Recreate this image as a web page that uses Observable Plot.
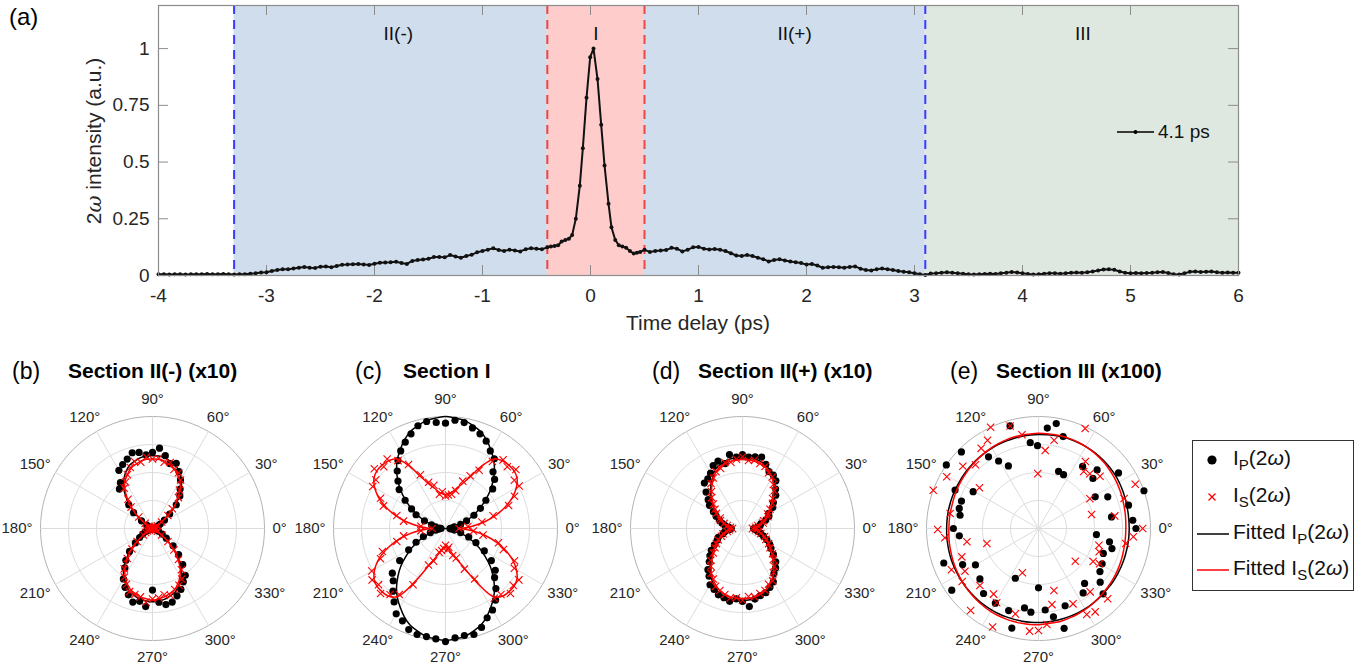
<!DOCTYPE html>
<html><head><meta charset="utf-8">
<script src="https://cdn.jsdelivr.net/npm/d3@7"></script>
<script src="https://cdn.jsdelivr.net/npm/@observablehq/plot@0.6"></script>
<style>
body{margin:0;background:#fff;font-family:"Liberation Sans",Arial,Helvetica,sans-serif;color:#000;}
#root{position:relative;width:1369px;height:668px;overflow:hidden;background:#fff;}
.abs{position:absolute;white-space:nowrap;}
svg{overflow:visible;}
</style></head>
<body><div id="root"></div>
<script>
// ---------------- DATA ----------------
// (a) time-delay scan: [delay (ps), 2ω intensity (a.u.)]
const scanPre = [[-4.00,.005],[-3.95,.005],[-3.90,.004],[-3.85,.005],[-3.80,.005],[-3.75,.004],[-3.70,.005],[-3.65,.006],[-3.60,.005],[-3.55,.007],[-3.50,.006],[-3.45,.006],[-3.40,.007],[-3.35,.006]];
const scanIIminus = [[-3.30,.004],[-3.25,.005],[-3.20,.006],[-3.15,.008],[-3.10,.010],[-3.05,.013],[-3.00,.014],[-2.95,.020],[-2.90,.024],[-2.85,.028],[-2.80,.027],[-2.75,.031],[-2.70,.034],[-2.65,.037],[-2.60,.034],[-2.55,.033],[-2.50,.039],[-2.45,.040],[-2.40,.036],[-2.35,.042],[-2.30,.047],[-2.25,.048],[-2.20,.050],[-2.15,.051],[-2.10,.049],[-2.05,.046],[-2.00,.052],[-1.95,.056],[-1.90,.057],[-1.85,.058],[-1.80,.061],[-1.75,.055],[-1.70,.051],[-1.65,.064],[-1.60,.068],[-1.55,.070],[-1.50,.074],[-1.45,.081],[-1.40,.082],[-1.35,.080],[-1.30,.090],[-1.25,.084],[-1.20,.078],[-1.15,.086],[-1.10,.092],[-1.05,.102],[-1.00,.108],[-0.95,.114],[-0.90,.120],[-0.85,.112],[-0.80,.108],[-0.75,.114],[-0.70,.110],[-0.65,.106],[-0.60,.116],[-0.55,.120],[-0.50,.118],[-0.45,.116]];
const scanI = [[-0.40,.124],[-0.367,.128],[-0.333,.130],[-0.300,.133],[-0.267,.150],[-0.233,.156],[-0.200,.162],[-0.170,.178],[-0.136,.250],[-0.099,.396],[-0.071,.561],[-0.037,.783],[-0.003,.962],[0.028,1.0],[0.065,.866],[0.099,.664],[0.130,.485],[0.167,.316],[0.194,.213],[0.229,.157],[0.262,.133],[0.295,.128],[0.330,.122],[0.365,.108],[0.400,.097],[0.430,.100],[0.460,.104]];
const scanIIplus = [[0.50,.113],[0.55,.104],[0.60,.108],[0.65,.110],[0.70,.112],[0.75,.122],[0.80,.118],[0.85,.106],[0.90,.114],[0.95,.124],[1.00,.126],[1.05,.118],[1.10,.115],[1.15,.117],[1.20,.113],[1.25,.108],[1.30,.098],[1.35,.088],[1.40,.086],[1.45,.090],[1.50,.086],[1.55,.078],[1.60,.072],[1.65,.062],[1.70,.068],[1.75,.072],[1.80,.066],[1.85,.062],[1.90,.058],[1.95,.055],[2.00,.048],[2.05,.051],[2.10,.044],[2.15,.034],[2.20,.036],[2.25,.038],[2.30,.036],[2.35,.034],[2.40,.038],[2.45,.040],[2.50,.030],[2.55,.024],[2.60,.022],[2.65,.028],[2.70,.031],[2.75,.028],[2.80,.024],[2.85,.020],[2.90,.017],[2.95,.014],[3.00,.010],[3.05,.006]];
const scanIII = [[3.10,.002],[3.15,.009],[3.20,.010],[3.25,.012],[3.30,.014],[3.35,.012],[3.40,.010],[3.45,.008],[3.50,.005],[3.55,.004],[3.60,.006],[3.65,.007],[3.70,.008],[3.75,.007],[3.80,.010],[3.85,.012],[3.90,.015],[3.95,.013],[4.00,.010],[4.05,.007],[4.10,.004],[4.15,.005],[4.20,.008],[4.25,.010],[4.30,.010],[4.35,.008],[4.40,.010],[4.45,.012],[4.50,.013],[4.55,.012],[4.60,.014],[4.65,.018],[4.70,.022],[4.75,.026],[4.80,.027],[4.85,.025],[4.90,.018],[4.95,.012],[5.00,.010],[5.05,.011],[5.10,.010],[5.15,.011],[5.20,.012],[5.25,.014],[5.30,.015],[5.35,.011],[5.40,.006],[5.45,.004],[5.50,.010],[5.55,.016],[5.60,.018],[5.65,.015],[5.70,.017],[5.75,.018],[5.80,.014],[5.85,.012],[5.90,.013],[5.95,.012],[6.00,.012]];

const regionNames = ["II(-)", "I", "II(+)", "III"];
const regionStart = [-3.3, -0.4, 0.5, 3.1];
const regionEnd   = [-0.4, 0.5, 3.1, 6];
const regionLabelT = [-1.78, 0.05, 1.89, 4.56];
const boundaryT   = [-3.3, -0.4, 0.5, 3.1];
const xTicks = [-4, -3, -2, -1, 0, 1, 2, 3, 4, 5, 6];
const yTicks = [0, 0.25, 0.5, 0.75, 1];
const yMax = 1.19;

// polar panels: angles (deg) and normalized radii
const polarAngles = [0,5,10,15,20,25,30,35,40,45,50,55,60,65,70,75,80,85,90,95,100,105,110,115,120,125,130,135,140,145,150,155,160,165,170,175,180,185,190,195,200,205,210,215,220,225,230,235,240,245,250,255,260,265,270,275,280,285,290,295,300,305,310,315,320,325,330,335,340,345,350,355];
const angleTicks = [0,30,60,90,120,150,180,210,240,270,300,330];

// (b) Section II(-) (x10)
const bDotsP = [.02,.03,.02,.03,.04,.06,.08,.13,.20,.30,.38,.43,.50,.56,.62,.60,.66,.72,.68,.66,.69,.70,.66,.63,.60,.50,.46,.30,.22,.12,.06,.04,.03,.02,.03,.02,.02,.03,.02,.04,.05,.07,.10,.14,.20,.29,.37,.43,.52,.58,.63,.68,.66,.70,.55,.66,.69,.68,.64,.60,.55,.51,.42,.33,.24,.15,.10,.06,.04,.03,.02,.03];
const bDotsS = [.01,.02,.01,.02,.03,.03,.05,.10,.18,.25,.36,.42,.50,.55,.56,.61,.60,.63,.62,.64,.60,.62,.58,.53,.48,.44,.34,.27,.16,.08,.04,.02,.02,.01,.02,.01,.02,.01,.02,.03,.03,.05,.07,.10,.18,.26,.35,.44,.50,.55,.60,.61,.62,.66,.63,.62,.60,.62,.58,.56,.52,.45,.36,.27,.18,.10,.05,.03,.02,.02,.01,.02];
const bFitP = [.003,.003,.003,.003,.01,.02,.04,.10,.19,.28,.37,.45,.51,.56,.60,.62,.64,.65,.65,.65,.64,.62,.60,.56,.51,.45,.37,.28,.19,.10,.04,.02,.01,.003,.003,.003,.003,.003,.003,.003,.01,.02,.04,.10,.19,.28,.37,.45,.51,.56,.60,.62,.64,.65,.655,.65,.64,.62,.60,.56,.51,.45,.37,.28,.19,.10,.04,.02,.01,.003,.003,.003];
const bFitS = [.003,.003,.003,.003,.01,.02,.04,.09,.18,.27,.35,.43,.49,.53,.57,.59,.61,.62,.62,.62,.61,.59,.57,.53,.49,.43,.35,.27,.18,.09,.04,.02,.01,.003,.003,.003,.003,.003,.003,.003,.01,.02,.04,.09,.18,.27,.35,.43,.49,.54,.58,.60,.62,.63,.64,.63,.62,.60,.58,.54,.49,.43,.35,.27,.18,.09,.04,.02,.01,.003,.003,.003];

// (c) Section I
const cDotsP = [.04,.05,.08,.14,.20,.28,.36,.44,.55,.62,.66,.76,.80,.86,.90,.93,.96,.97,.94,.95,.97,.95,.90,.85,.80,.74,.67,.60,.54,.44,.35,.29,.20,.13,.09,.05,.04,.06,.09,.14,.21,.29,.38,.50,.62,.66,.73,.80,.88,.91,.96,.98,.98,.99,1.01,.98,.97,.98,.94,.88,.84,.78,.70,.62,.58,.50,.40,.30,.22,.14,.08,.05];
const cDotsS = [.12,.20,.33,.44,.60,.68,.76,.75,.82,.78,.80,.73,.60,.52,.45,.35,.31,.30,.29,.33,.31,.40,.44,.53,.66,.74,.81,.78,.83,.76,.75,.64,.59,.45,.38,.22,.12,.22,.38,.45,.60,.64,.76,.80,.78,.82,.77,.72,.58,.36,.31,.22,.20,.18,.15,.19,.17,.25,.28,.40,.52,.76,.77,.82,.79,.80,.71,.68,.55,.49,.34,.25];
const cFitP = [.003,.03,.07,.12,.19,.27,.35,.43,.52,.60,.68,.75,.81,.87,.92,.95,.98,.99,1.0,.99,.98,.95,.92,.87,.81,.75,.68,.60,.52,.43,.35,.27,.19,.12,.07,.03,.003,.03,.07,.12,.19,.27,.35,.43,.52,.60,.68,.75,.81,.87,.92,.95,.98,.99,1.0,.99,.98,.95,.92,.87,.81,.75,.68,.60,.52,.43,.35,.27,.19,.12,.07,.03];
const cFitS = [.14,.24,.36,.47,.57,.66,.73,.78,.80,.80,.79,.76,.64,.50,.42,.37,.33,.31,.30,.31,.33,.37,.42,.50,.64,.76,.79,.80,.80,.78,.73,.66,.57,.47,.36,.24,.14,.24,.36,.47,.57,.66,.73,.78,.80,.80,.79,.74,.55,.38,.29,.23,.19,.17,.16,.17,.19,.23,.29,.38,.55,.74,.79,.80,.80,.78,.73,.66,.57,.47,.36,.24];

// (d) Section II(+) (x10)
const dDotsP = [.10,.13,.16,.17,.22,.26,.27,.33,.36,.42,.46,.52,.55,.56,.61,.66,.65,.64,.66,.64,.67,.60,.64,.62,.57,.54,.53,.46,.40,.36,.30,.26,.22,.19,.16,.12,.10,.12,.16,.18,.23,.25,.29,.34,.38,.42,.48,.52,.58,.60,.63,.64,.66,.63,.65,.70,.64,.62,.61,.58,.55,.49,.46,.42,.36,.31,.28,.24,.20,.17,.14,.12];
const dDotsS = [.09,.12,.14,.19,.20,.25,.26,.30,.35,.38,.44,.48,.53,.55,.59,.60,.62,.61,.64,.62,.60,.61,.57,.56,.52,.49,.43,.39,.34,.30,.27,.22,.21,.17,.14,.11,.09,.12,.14,.18,.20,.24,.27,.30,.34,.40,.44,.49,.52,.57,.59,.61,.63,.62,.64,.61,.62,.60,.59,.55,.54,.48,.44,.39,.35,.30,.27,.23,.21,.17,.15,.12];
const dFitP = [.10,.12,.15,.18,.21,.24,.27,.31,.35,.40,.45,.50,.54,.58,.60,.62,.63,.63,.63,.63,.63,.62,.60,.58,.53,.49,.44,.40,.35,.31,.27,.24,.21,.18,.15,.12,.10,.12,.15,.18,.21,.24,.27,.31,.35,.40,.45,.50,.54,.58,.61,.63,.64,.64,.64,.64,.64,.63,.61,.58,.54,.50,.45,.40,.35,.31,.27,.24,.21,.18,.15,.12];
const dFitS = [.097,.117,.145,.175,.205,.235,.265,.30,.34,.385,.435,.485,.525,.56,.585,.60,.61,.615,.615,.615,.61,.60,.585,.56,.515,.475,.43,.385,.34,.30,.265,.235,.205,.175,.145,.117,.097,.117,.145,.175,.205,.235,.265,.30,.34,.385,.435,.485,.525,.56,.59,.61,.62,.625,.625,.625,.62,.61,.59,.56,.525,.485,.435,.385,.34,.30,.265,.235,.205,.175,.145,.117];

// (e) Section III (x100): scattered points as [angle, r]
const eDotsP = [[0,.87],[5,.845],[9,.66],[14.5,.83],[19.7,1.0],[24.6,.68],[29.2,.58],[34.8,.87],[42.6,.66],[45,.74],[54.6,.68],[65,.53],[70.6,.54],[75,.85],[80.4,.95],[85,.90],[90.7,.74],[95.5,.77],[105.5,.95],[115.7,.62],[120.6,.70],[124.9,.78],[135.2,.97],[145.4,1.0],[150.6,.67],[155.3,.82],[160.4,.73],[165.8,.73],[170.4,.71],[180,.76],[185.3,.71],[200,.90],[205.4,.75],[210,.65],[215.4,.95],[220.7,.69],[229.8,.76],[240,.77],[245,.49],[250,.78],[255,.92],[260,.72],[264.8,.75],[270,.53],[274.7,.73],[279.6,.80],[284.4,.92],[289,.73],[304.7,.70],[310,.64],[314.7,.82],[319,.73],[325,.67],[331,.65],[339,.62],[344.7,.68],[349.4,.645],[354,.52]];
const eDotsS = [[0,.93],[9.4,.69],[14.7,.49],[19.3,.81],[24.6,.95],[30,.53],[40.3,.72],[46.8,.67],[51.6,.65],[55,.73],[65,.985],[80,.80],[85.1,.70],[90.7,.49],[100,.85],[105.5,.95],[115.3,1.0],[120,.91],[125.6,.88],[134.7,.80],[140.5,.875],[145.4,.64],[150.6,.94],[160,1.0],[170.4,.80],[180.6,.90],[185.7,.84],[190.5,.65],[196.2,.48],[200.3,.73],[205.3,.86],[210.2,.76],[214.8,.83],[224.2,.73],[230.4,.95],[235.6,.71],[240.6,.76],[245,.97],[250,.42],[254.8,.79],[265,.92],[270,.91],[275,.86],[280,.69],[284,.57],[294.6,.74],[299.3,.88],[304.2,.90],[309.2,.73],[314.6,.88],[318.3,.44],[328.8,.57],[330,.63],[339,.58],[344.5,.56],[350.2,.79],[355,.85]];
const eFitP = [.81,.81,.812,.815,.82,.825,.83,.835,.838,.84,.842,.844,.845,.845,.845,.845,.843,.841,.84,.838,.836,.835,.833,.832,.83,.828,.826,.825,.823,.822,.82,.82,.82,.82,.82,.82,.82,.822,.823,.825,.827,.828,.83,.832,.834,.835,.837,.839,.84,.84,.84,.84,.84,.84,.84,.838,.836,.835,.833,.832,.83,.827,.823,.82,.818,.817,.815,.813,.812,.81,.81,.81];
const eFitS = [.78,.782,.786,.79,.797,.803,.81,.817,.823,.83,.835,.84,.845,.847,.849,.85,.85,.85,.85,.848,.847,.845,.842,.838,.835,.83,.825,.82,.817,.813,.81,.807,.803,.80,.80,.80,.80,.803,.807,.81,.815,.82,.825,.83,.835,.84,.845,.85,.855,.857,.859,.86,.86,.86,.86,.855,.853,.85,.845,.84,.835,.828,.822,.815,.81,.805,.80,.795,.79,.785,.782,.78];

// ---------------- STYLE ----------------
const FONT = "'Liberation Sans', Arial, Helvetica, sans-serif";
const regionFill = ["#d0ddec", "#ffcccc", "#d0ddec", "#dfe8e0"];
const boundaryColor = ["#3b3bff", "#e8474a", "#e8474a", "#3b3bff"];
const AXIS_GRAY = "#8c8c8c";
const root = document.getElementById("root");
function place(el, left, top) {
  const d = document.createElement("div");
  d.className = "abs"; d.style.left = left + "px"; d.style.top = top + "px";
  d.appendChild(el); root.appendChild(d); return d;
}
function html(text, left, top, css) {
  const d = document.createElement("div");
  d.className = "abs"; d.style.left = left + "px"; d.style.top = top + "px";
  d.style.cssText += css || ""; d.innerHTML = text; root.appendChild(d); return d;
}

// ---------------- (a) TOP PANEL ----------------
const scan = [...scanPre, ...scanIIminus, ...scanI, ...scanIIplus, ...scanIII].map(([t, v]) => ({t, v}));
const regions = regionNames.map((name, i) => ({name, x1: regionStart[i], x2: regionEnd[i], lx: regionLabelT[i], fill: regionFill[i]}));
const bounds = boundaryT.map((t, i) => ({t, c: boundaryColor[i]}));
const mL = 158, mR = 131, mT = 5, mB = 65, TW = 1369, TH = 340;
const innerW = TW - mL - mR, innerH = TH - mT - mB;

const topPlot = Plot.plot({
  width: TW, height: TH, marginLeft: mL, marginRight: mR, marginTop: mT, marginBottom: mB,
  style: {fontFamily: FONT, fontSize: "19px", color: "#262626", background: "transparent", overflow: "visible"},
  x: {domain: [-4, 6], axis: null},
  y: {domain: [0, yMax], axis: null},
  color: {type: "identity"},
  marks: [
    Plot.rect(regions, {x1: "x1", x2: "x2", y1: 0, y2: yMax, fill: "fill"}),
    Plot.ruleX(bounds, {x: "t", stroke: "c", strokeWidth: 2, strokeDasharray: "9,6"}),
    Plot.text(regions, {x: "lx", frameAnchor: "top", dy: 21, text: "name", fontSize: 19, fill: "#111"}),
    Plot.ruleX(xTicks, {x: d => d, insetTop: innerH - 10, stroke: AXIS_GRAY}),
    Plot.ruleX(xTicks, {x: d => d, insetBottom: innerH - 10, stroke: AXIS_GRAY}),
    Plot.ruleY(yTicks, {y: d => d, insetRight: innerW - 10, stroke: AXIS_GRAY}),
    Plot.ruleY(yTicks, {y: d => d, insetLeft: innerW - 10, stroke: AXIS_GRAY}),
    Plot.axisX(xTicks, {tickSize: 0, tickPadding: 13, tickFormat: d => String(d), fontSize: 19, fill: "#262626", label: null}),
    Plot.axisY(yTicks, {tickSize: 0, tickPadding: 9, tickFormat: d => String(d), fontSize: 19, fill: "#262626", label: null}),
    Plot.line(scan, {x: "t", y: "v", stroke: "#111", strokeWidth: 2}),
    Plot.dot(scan, {x: "t", y: "v", r: 2, fill: "#111"}),
    Plot.frame({stroke: AXIS_GRAY, strokeWidth: 1.2})
  ]
});
place(topPlot, 0, 0);

html("(a)", 9, 3, "font-size:24px;line-height:28px;");
html("Time delay (ps)", 598, 310, "width:200px;text-align:center;font-size:21px;line-height:26px;color:#262626;");
html("2<i style='font-family:DejaVu Serif, serif'>ω</i> intensity (a.u.)", -6, 128, "width:200px;text-align:center;font-size:21px;line-height:26px;color:#262626;transform:rotate(-90deg);transform-origin:100px 13px;");
// small scale-bar legend inside (a)
html("<svg width='44' height='10' style='display:block'><line x1='1' y1='5' x2='38' y2='5' stroke='#000' stroke-width='1.4'/><circle cx='19.5' cy='5' r='2' fill='#000'/></svg>", 1116, 127, "");
html("4.1 ps", 1158, 120, "font-size:19px;line-height:24px;color:#111;");

// ---------------- POLAR PANELS ----------------
const rad = a => a * Math.PI / 180;
function fitSegments(radii, breaks) {
  const pts = polarAngles.map((a, i) => ({a, r: radii[i]}));
  pts.push({a: 360, r: radii[0]});
  const out = []; let seg = 0;
  pts.forEach((p, i) => {
    out.push({...p, seg});
    if (i > 0 && i < pts.length - 1 && breaks.includes(p.a)) { seg++; out.push({...p, seg}); }
  });
  return out;
}
function polarPlot(cfg) {
  const rings = [];
  for (const rr of [0.25, 0.5, 0.75, 1]) for (let a = 0; a <= 360; a += 3) rings.push({rr, x: rr * Math.cos(rad(a)), y: rr * Math.sin(rad(a))});
  const spokes = angleTicks.map(a => ({x: Math.cos(rad(a)), y: Math.sin(rad(a))}));
  const labels = angleTicks.map(a => {
    const hw = (String(a).length * 0.556 + 0.4) * 15 / 2;
    const c = Math.cos(rad(a)), s = Math.sin(rad(a));
    return {t: a + "°", x: (120 * c + hw * c) / 112, y: (121 * s + 8 * s) / 112};
  });
  const P = cfg.dotsP, S = cfg.dotsS;
  const X = d => d.r * Math.cos(rad(d.a)), Y = d => d.r * Math.sin(rad(d.a));
  return Plot.plot({
    width: 300, height: 290, marginLeft: 38, marginRight: 38, marginTop: 33, marginBottom: 33,
    style: {fontFamily: FONT, background: "transparent", overflow: "visible"},
    x: {domain: [-1, 1], axis: null}, y: {domain: [-1, 1], axis: null},
    marks: [
      Plot.line(rings, {x: "x", y: "y", z: "rr", stroke: d => d.rr === 1 ? "#b3b3b3" : "#dcdcdc", strokeWidth: 1}),
      Plot.link(spokes, {x1: 0, y1: 0, x2: "x", y2: "y", stroke: "#dcdcdc", strokeWidth: 1}),
      Plot.text(labels, {x: "x", y: "y", text: "t", fontSize: 15, fill: "#262626"}),
      Plot.dot(P, {x: X, y: Y, r: 3.6, fill: "#000", stroke: "none"}),
      Plot.line(fitSegments(cfg.fitP, cfg.breaksP), {x: X, y: Y, z: "seg", curve: "catmull-rom", stroke: "#000", strokeWidth: 1.5}),
      Plot.dot(S, {x: X, y: Y, r: 3.4, symbol: "times", stroke: "#ff0000", strokeWidth: 1.1, fill: "none"}),
      Plot.line(fitSegments(cfg.fitS, cfg.breaksS), {x: X, y: Y, z: "seg", curve: "catmull-rom", stroke: "#ff0000", strokeWidth: 1.5})
    ]
  });
}
const toPts = arr => arr.map((r, i) => ({a: polarAngles[i], r}));
const pairPts = arr => arr.map(([a, r]) => ({a, r}));
const panels = [
  {cx: 151.7, dotsP: toPts(bDotsP), dotsS: toPts(bDotsS), fitP: bFitP, fitS: bFitS, breaksP: [], breaksS: []},
  {cx: 445, dotsP: toPts(cDotsP), dotsS: toPts(cDotsS), fitP: cFitP, fitS: cFitS, breaksP: [], breaksS: [90, 180, 270]},
  {cx: 742.3, dotsP: toPts(dDotsP), dotsS: toPts(dDotsS), fitP: dFitP, fitS: dFitS, breaksP: [180], breaksS: [180]},
  {cx: 1038.3, dotsP: pairPts(eDotsP), dotsS: pairPts(eDotsS), fitP: eFitP, fitS: eFitS, breaksP: [], breaksS: []}
];
const cy = 528;
panels.forEach(p => place(polarPlot(p), p.cx - 150, cy - 145));

// panel titles
const titles = [["(b)", 12, "Section II(-) (x10)", 68], ["(c)", 355, "Section I", 403], ["(d)", 652, "Section II(+) (x10)", 698], ["(e)", 950, "Section III (x100)", 996]];
titles.forEach(([tag, x1, title, x2]) => {
  html(tag, x1, 358, "font-size:23px;line-height:26px;");
  html(title, x2, 358, "font-size:21px;line-height:26px;font-weight:bold;");
});

// legend
const leg = `<div style="position:relative;width:160px;height:149px;border:1.3px solid #333;background:#fff;font-size:21px;line-height:24px;color:#111;">
<svg width="40" height="149" style="position:absolute;left:0;top:0">
<circle cx="19" cy="19" r="4.6" fill="#000"/>
<path d="M15.5,52.5 L22.5,59.5 M22.5,52.5 L15.5,59.5" stroke="#ff0000" stroke-width="1.3"/>
<line x1="4" y1="93" x2="36" y2="93" stroke="#000" stroke-width="1.5"/>
<line x1="4" y1="129" x2="36" y2="129" stroke="#ff0000" stroke-width="1.5"/>
</svg>
<div style="position:absolute;left:40px;top:5px">I<sub style="font-size:15px">P</sub>(2<i>ω</i>)</div>
<div style="position:absolute;left:40px;top:42px">I<sub style="font-size:15px">S</sub>(2<i>ω</i>)</div>
<div style="position:absolute;left:40px;top:79px">Fitted I<sub style="font-size:15px">P</sub>(2<i>ω</i>)</div>
<div style="position:absolute;left:40px;top:115px">Fitted I<sub style="font-size:15px">S</sub>(2<i>ω</i>)</div>
</div>`;
html(leg, 1192, 440, "");
</script>
</body></html>
